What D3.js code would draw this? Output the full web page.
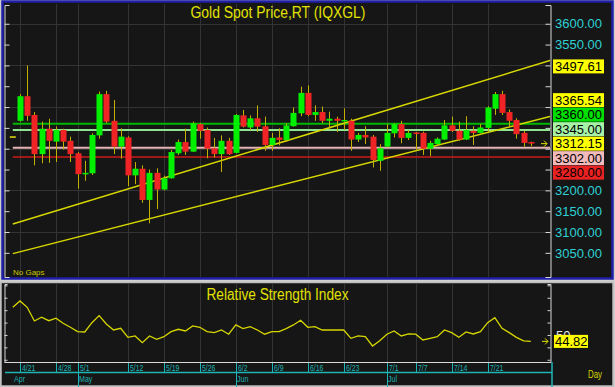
<!DOCTYPE html>
<html lang="en">
<head>
<meta charset="utf-8">
<title>Gold Spot Price,RT (IQXGL)</title>
<script src="https://cdn.jsdelivr.net/npm/d3@7"></script>
<style>
  body { margin: 0; background: #cfcfcf; }
  svg { display: block; }
  text { font-family: Arial, "Liberation Sans", sans-serif; }
</style>
</head>
<body>
<script>

// sessions shown (the axis starts one session earlier, on leadSession, which has no candle)
var leadSession = "4/18";
var dates = ["4/21","4/22","4/23","4/24","4/25","4/28","4/29","4/30",
             "5/1","5/2","5/5","5/6","5/7","5/8","5/9","5/12","5/13","5/14","5/15","5/16",
             "5/19","5/20","5/21","5/22","5/23","5/26","5/27","5/28","5/29","5/30",
             "6/2","6/3","6/4","6/5","6/6","6/9","6/10","6/11","6/12","6/13",
             "6/16","6/17","6/18","6/19","6/20","6/23","6/24","6/25","6/26","6/27","6/30",
             "7/1","7/2","7/3","7/4","7/7","7/8","7/9","7/10","7/11",
             "7/14","7/15","7/16","7/17","7/18","7/21","7/22","7/23","7/24","7/25","7/28","7/29"];

var open  = [3367,3426,3381,3287,3348,3317,3345,3319, 3289,3239,3241,3332,3431,3367,3305,3327,3236,3252,3177,3242,
             3202,3229,3289,3316,3293,3359,3345,3301,3287,3319, 3290,3380,3351,3373,3354,3309,3327,3321,3354,3385,
             3434,3381,3388,3367,3372,3367,3367,3322,3333,3329,3271, 3305,3337,3359,3326,3339,3338,3300,3311,3322,
             3356,3343,3322,3343,3338,3350,3396,3431,3388,3369,3338,3316];
var high  = [3431,3500,3388,3365,3372,3353,3348,3329, 3292,3271,3337,3437,3439,3417,3349,3330,3268,3260,3250,3253,
             3235,3297,3322,3348,3365,3361,3351,3326,3332,3326, 3383,3393,3380,3404,3377,3338,3349,3361,3399,3449,
             3452,3404,3401,3389,3377,3397,3372,3338,3354,3333,3311, 3359,3361,3367,3345,3340,3341,3319,3327,3369,
             3377,3365,3378,3354,3359,3402,3436,3439,3394,3373,3343,3317];
var low   = [3365,3367,3260,3265,3266,3268,3298,3268, 3204,3223,3237,3324,3361,3287,3276,3210,3215,3170,3121,3155,
             3200,3228,3285,3285,3292,3324,3277,3279,3244,3285, 3289,3351,3345,3340,3295,3295,3308,3316,3353,3378,
             3378,3367,3361,3346,3340,3345,3295,3316,3311,3255,3247, 3303,3327,3313,3321,3295,3285,3282,3309,3321,
             3340,3319,3321,3309,3337,3340,3381,3381,3351,3324,3305,3306];
var close = [3426,3379,3287,3348,3319,3345,3317,3287, 3239,3242,3333,3431,3365,3305,3329,3236,3252,3177,3242,3202,
             3229,3292,3316,3293,3361,3343,3300,3287,3319,3287, 3381,3353,3373,3353,3309,3326,3321,3356,3386,3434,
             3381,3388,3367,3372,3367,3369,3322,3333,3327,3273,3301, 3338,3359,3326,3338,3337,3300,3314,3324,3356,
             3343,3322,3345,3338,3351,3399,3431,3386,3367,3335,3314,3312.15];
var priorClose = 3328;   // close of leadSession

// RSI, starting on leadSession
var rsi = [72.3,
           77.4,72.3,61.3,64.3,61.5,63.5,59.4,56.2, 52.7,52.4,59.9,65.6,58.9,54.0,55.4,48.1,49.2,43.8,49.2,46.5,
           48.6,52.7,54.6,53.2,57.3,56.2,52.7,51.9,54.0,50.6, 58.1,55.1,56.7,54.0,50.6,52.7,52.7,55.1,58.1,61.9,
           56.2,56.7,54.0,54.0,54.0,54.0,47.3,49.2,48.6,41.1,45.4, 50.6,53.2,49.2,50.8,50.6,46.0,47.3,48.6,54.0,
           51.9,48.1,52.4,50.8,52.7,59.9,64.0,55.4,51.9,48.1,45.2,44.82];

// trend channel: value on first and last session
var channelUpper = [3124.4, 3497.61];
var channelLower = [3052.5, 3365.54];

// horizontal levels
var levels = [3360, 3345, 3302, 3280];

var priceTicks = d3.range(3050, 3601, 50);
var priceGrid = d3.range(3100, 3601, 100);
var rsiTicks = [30, 40, 50, 60, 70, 80, 90];
var dateTicks = ["4/21","4/28","5/1","5/12","5/19","5/26","6/2","6/9","6/16","6/23","7/1","7/7","7/14","7/21"];
var months = ["Apr","May","Jun","Jul"];
var monthStarts = ["4/18","5/1","6/2","7/1"];

var w = 615, h = 387;
var bg = "#161616";
var grid = "#333333";
var teal = "#1fb4b4";
var yellow = "#e2e200";
var levelColors = ["#00b800", "#8fe58f", "#e6b4b4", "#cc1a1a"];
var levelTagColors = ["#00e000", "#a6f2a6", "#f2baba", "#e82222"];
var levelWidths = [2, 2, 2, 1.5];

function idx(d) {
	return d === leadSession ? -1 : dates.indexOf(d);
}

// plot areas
var pL = 5, pR = 550, pT = 4, pB = 277;
var rT = 284, rB = 362;

var x = d3.scaleLinear()
		.domain([0, dates.length - 1])
		.range([20, 530.8]);

var y = d3.scaleLinear()
		.domain([2992, 3645])
		.range([pB, 5]);

var yr = d3.scaleLinear()
		.domain([28.2, 91.1])
		.range([rB, rT]);

var svg = d3.select("body")
			.append("svg")
			.attr("width", w)
			.attr("height", h);

//Frames
svg.append("rect").attr("x", 0).attr("y", 0).attr("width", w).attr("height", h).attr("fill", "#cfcfcf");
svg.append("rect").attr("x", 2.5).attr("y", 1.5).attr("width", 610).attr("height", 277)
	.attr("fill", bg).attr("stroke", "#1f1fa8").attr("stroke-width", 2.5);
svg.append("rect").attr("x", 1).attr("y", 282.5).attr("width", 612).attr("height", 103.5)
	.attr("fill", bg).attr("stroke", "#bdbdbd").attr("stroke-width", 1.5);

var defs = svg.append("defs");
defs.append("clipPath").attr("id", "clipTop")
	.append("rect").attr("x", pL).attr("y", pT).attr("width", pR - pL).attr("height", pB - pT);
defs.append("clipPath").attr("id", "clipRsi")
	.append("rect").attr("x", pL).attr("y", rT).attr("width", pR - pL).attr("height", rB - rT);

//Grid
var tickIdx = dateTicks.map(idx);
svg.selectAll("line.vgrid")
   .data(tickIdx)
   .enter()
   .append("line")
   .attr("class", "vgrid")
   .attr("x1", function(d) { return Math.round(x(d)) + 0.5; })
   .attr("x2", function(d) { return Math.round(x(d)) + 0.5; })
   .attr("y1", pT)
   .attr("y2", pB)
   .attr("stroke", grid);

svg.selectAll("line.vgridr")
   .data(tickIdx)
   .enter()
   .append("line")
   .attr("class", "vgridr")
   .attr("x1", function(d) { return Math.round(x(d)) + 0.5; })
   .attr("x2", function(d) { return Math.round(x(d)) + 0.5; })
   .attr("y1", rT)
   .attr("y2", rB)
   .attr("stroke", grid);

svg.selectAll("line.hgrid")
   .data(priceGrid)
   .enter()
   .append("line")
   .attr("class", "hgrid")
   .attr("x1", pL)
   .attr("x2", pR)
   .attr("y1", function(d) { return Math.round(y(d)) + 0.5; })
   .attr("y2", function(d) { return Math.round(y(d)) + 0.5; })
   .attr("stroke", grid);

//Title
svg.append("text")
   .attr("x", 278).attr("y", 18)
   .attr("text-anchor", "middle")
   .attr("font-size", "16px")
   .attr("fill", yellow)
   .attr("textLength", 175)
   .attr("lengthAdjust", "spacingAndGlyphs")
   .text("Gold  Spot  Price,RT  (IQXGL)");

var main = svg.append("g").attr("clip-path", "url(#clipTop)");

//Levels
main.selectAll("line.level")
   .data(levels)
   .enter()
   .append("line")
   .attr("class", "level")
   .attr("x1", x(-1))
   .attr("x2", pR)
   .attr("y1", function(d) { return y(d); })
   .attr("y2", function(d) { return y(d); })
   .attr("stroke", function(d, i) { return levelColors[i]; })
   .attr("stroke-width", function(d, i) { return levelWidths[i]; });

//Trend channel
var xEnd = x.invert(pR);
[channelUpper, channelLower].forEach(function(c) {
	var slope = (c[1] - c[0]) / (dates.length - 1);
	main.append("line")
	   .attr("x1", x(-1))
	   .attr("y1", y(c[0] - slope))
	   .attr("x2", x(xEnd))
	   .attr("y2", y(c[0] + slope * xEnd))
	   .attr("stroke", "#d8d800")
	   .attr("stroke-width", 1.5);
});

//Candles
var candles = dates.map(function(d, i) {
	return { i: i, o: open[i], h: high[i], l: low[i], c: close[i] };
});

main.selectAll("line.wick")
   .data(candles)
   .enter()
   .append("line")
   .attr("class", "wick")
   .attr("x1", function(d) { return Math.round(x(d.i)) + 0.5; })
   .attr("x2", function(d) { return Math.round(x(d.i)) + 0.5; })
   .attr("y1", function(d) { return y(d.h); })
   .attr("y2", function(d) { return y(d.l); })
   .attr("stroke", "#c4b000");

main.selectAll("rect.body")
   .data(candles)
   .enter()
   .append("rect")
   .attr("class", "body")
   .attr("x", function(d) { return Math.round(x(d.i)) - 2.5; })
   .attr("width", 6)
   .attr("y", function(d) { return y(Math.max(d.o, d.c)); })
   .attr("height", function(d) { return Math.max(1.5, Math.abs(y(d.o) - y(d.c))); })
   .attr("fill", function(d) { return d.c >= d.o ? "#00f000" : "#f02424"; });

//Prior close dash
main.append("line")
   .attr("x1", x(-1) - 3).attr("x2", x(-1) + 3)
   .attr("y1", y(priorClose)).attr("y2", y(priorClose))
   .attr("stroke", yellow).attr("stroke-width", 1.5);

//Last price arrow
var lastClose = close[close.length - 1];
function arrow(g, cx, cy) {
	g.append("path")
	 .attr("d", "M" + (cx - 3) + "," + cy + "H" + (cx + 3) + "M" + cx + "," + (cy - 3) + "L" + (cx + 3) + "," + cy + "L" + cx + "," + (cy + 3))
	 .attr("stroke", yellow)
	 .attr("fill", "none");
}
arrow(svg, 544, y(lastClose));

svg.append("text")
   .attr("x", 13).attr("y", 275)
   .attr("font-size", "8px")
   .attr("fill", "#c8c800")
   .text("No Gaps");

//Price axes
function priceAxis(pos, side) {
	var g = svg.append("g").attr("transform", "translate(" + pos + ",0)");
	var mk = side === "left" ? d3.axisLeft : d3.axisRight;
	g.call(mk(y).tickValues(d3.range(3000, 3641, 10)).tickSize(3).tickFormat(""));
	g.call(mk(y).tickValues(priceTicks).tickSize(5).tickFormat(""));
	g.selectAll("line").attr("stroke", "#d8d8d8");
	g.selectAll("path").attr("stroke", "#d8d8d8");
}
priceAxis(pR + 0.5, "left");
priceAxis(pL - 0.5, "right");

//Right tags, stacked so they do not overlap
var fmt = d3.format(".2f");
var tags = [
	{ v: channelUpper[1], fill: "#ffff00" },
	{ v: channelLower[1], fill: "#ffff00" },
	{ v: lastClose, fill: "#ffff00", anchor: true }
];
levels.forEach(function(v, i) { tags.push({ v: v, fill: levelTagColors[i] }); });
tags.sort(function(a, b) { return b.v - a.v; });
tags.forEach(function(t) { t.y = y(t.v); });
var th = 14.5;
var a = tags.findIndex(function(t) { return t.anchor; });
for (var k = a + 1; k < tags.length; k++) tags[k].y = Math.max(tags[k].y, tags[k - 1].y + th);
for (var k = a - 1; k >= 0; k--) tags[k].y = Math.min(tags[k].y, tags[k + 1].y - th);

svg.selectAll("text.plabel")
   .data(priceTicks.filter(function(v) {
		return tags.every(function(t) { return Math.abs(t.y - y(v)) >= 14; });
   }))
   .enter()
   .append("text")
   .attr("class", "plabel")
   .attr("x", 555)
   .attr("y", function(d) { return y(d) + 4.7; })
   .attr("font-size", "13px")
   .attr("fill", "#2fd0d4")
   .text(function(d) { return fmt(d); });

var tagG = svg.selectAll("g.tag")
   .data(tags)
   .enter()
   .append("g")
   .attr("class", "tag")
   .attr("transform", function(d) { return "translate(0," + d.y + ")"; });
tagG.append("rect")
	.attr("x", 553).attr("y", -7)
	.attr("width", 51).attr("height", 14)
	.attr("fill", function(d) { return d.fill; });
tagG.append("text")
	.attr("x", 555).attr("y", 4.7)
	.attr("font-size", "13px")
	.attr("fill", "#000")
	.text(function(d) { return fmt(d.v); });

//RSI panel
svg.append("text")
   .attr("x", 277.5).attr("y", 300)
   .attr("text-anchor", "middle")
   .attr("font-size", "16px")
   .attr("fill", yellow)
   .attr("textLength", 142)
   .attr("lengthAdjust", "spacingAndGlyphs")
   .text("Relative  Strength  Index");

var rsiLine = d3.line()
	.x(function(d, i) { return x(i - 1); })
	.y(function(d) { return yr(d); });

svg.append("g").attr("clip-path", "url(#clipRsi)")
   .append("path")
   .datum(rsi)
   .attr("d", rsiLine)
   .attr("fill", "none")
   .attr("stroke", "#d6d600")
   .attr("stroke-width", 1.3);

var ra = svg.append("g").attr("transform", "translate(" + (pR + 0.5) + ",0)")
	.call(d3.axisLeft(yr).tickValues(rsiTicks).tickSize(3).tickFormat(""));
var la = svg.append("g").attr("transform", "translate(" + (pL - 0.5) + ",0)")
	.call(d3.axisRight(yr).tickValues(rsiTicks).tickSize(3).tickFormat(""));
ra.selectAll("line, path").attr("stroke", "#d8d8d8");
la.selectAll("line, path").attr("stroke", "#d8d8d8");

svg.append("line")
   .attr("x1", pL - 0.5).attr("x2", pR + 0.5)
   .attr("y1", rB + 0.5).attr("y2", rB + 0.5)
   .attr("stroke", "#d8d8d8");

svg.append("text")
   .attr("x", 556).attr("y", yr(50) + 4.7)
   .attr("font-size", "13px")
   .attr("fill", "#e8e8e8")
   .text("50");

var lastRsi = rsi[rsi.length - 1];
svg.append("rect")
   .attr("x", 554).attr("y", yr(lastRsi) - 6.5)
   .attr("width", 34).attr("height", 13)
   .attr("fill", "#ffff00");
svg.append("text")
   .attr("x", 555).attr("y", yr(lastRsi) + 4.7)
   .attr("font-size", "13px")
   .attr("fill", "#000")
   .text(fmt(lastRsi));
arrow(svg, 545, yr(lastRsi));

//Date axis
var dAxisY = 372.5;
svg.append("line")
   .attr("x1", pL).attr("x2", 552)
   .attr("y1", dAxisY).attr("y2", dAxisY)
   .attr("stroke", teal).attr("stroke-width", 1.5);
svg.append("line")
   .attr("x1", 552).attr("x2", 552)
   .attr("y1", rB).attr("y2", h)
   .attr("stroke", teal).attr("stroke-width", 1.5);

svg.selectAll("line.dtick")
   .data(dateTicks)
   .enter()
   .append("line")
   .attr("class", "dtick")
   .attr("x1", function(d) { return Math.round(x(idx(d))) + 0.5; })
   .attr("x2", function(d) { return Math.round(x(idx(d))) + 0.5; })
   .attr("y1", rB + 1)
   .attr("y2", dAxisY)
   .attr("stroke", teal);

svg.selectAll("text.dlabel")
   .data(dateTicks)
   .enter()
   .append("text")
   .attr("class", "dlabel")
   .attr("transform", function(d) { return "translate(" + (Math.round(x(idx(d))) + 2) + ",371) scale(0.72,1)"; })
   .attr("font-size", "9.5px")
   .attr("fill", teal)
   .text(function(d) { return d; });

svg.selectAll("line.mtick")
   .data(monthStarts.slice(1))
   .enter()
   .append("line")
   .attr("class", "mtick")
   .attr("x1", function(d) { return Math.round(x(idx(d))) + 0.5; })
   .attr("x2", function(d) { return Math.round(x(idx(d))) + 0.5; })
   .attr("y1", rB + 1)
   .attr("y2", h)
   .attr("stroke", teal);

svg.selectAll("text.mlabel")
   .data(months)
   .enter()
   .append("text")
   .attr("class", "mlabel")
   .attr("transform", function(d, i) { return "translate(" + (Math.round(x(idx(monthStarts[i]))) + 1) + ",382) scale(0.75,1)"; })
   .attr("font-size", "9.5px")
   .attr("fill", teal)
   .text(function(d) { return d; });

svg.append("text")
   .attr("transform", "translate(588,378) scale(0.75,1)")
   .attr("font-size", "10.5px")
   .attr("fill", "#d8d800")
   .text("Day");

</script>
</body>
</html>
